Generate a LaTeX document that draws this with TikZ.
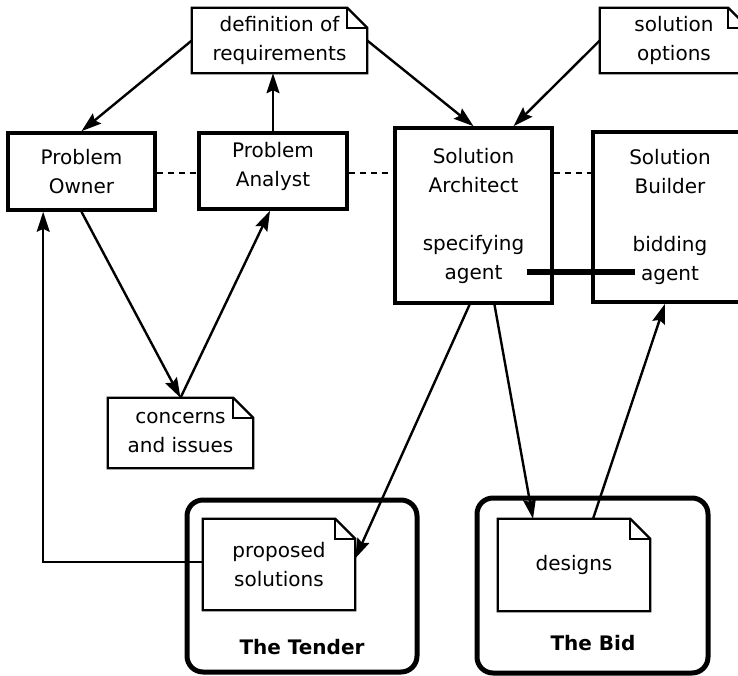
\documentclass[tikz,border=0pt]{standalone}
\usepackage{fontspec}
\setmainfont{DejaVu Sans}
\usetikzlibrary{arrows.meta}

\tikzset{
  txt/.style={font=\fontsize{20}{29}\selectfont, align=center, inner sep=0pt},
  role/.style={txt, draw, line width=3.6pt},
  note/.style={txt},
  notefold/.style={line width=2.3pt, line join=miter},
  frame/.style={draw, line width=5pt, rounded corners=16pt, inner sep=0pt},
  flow/.style={line width=2.4pt, -{Stealth[length=20pt,width=13pt,inset=3pt]}},
  peer/.style={line width=1.8pt, dash pattern=on 6pt off 5pt},
  agentlink/.style={line width=6.5pt},
}

% outline of a note node with a folded top right corner
\newcommand\dogear[1]{%
  \draw[notefold] (#1.north west) -- ([xshift=-20pt]#1.north east)
    -- ([yshift=-20pt]#1.north east) -- (#1.south east)
    -- (#1.south west) -- cycle;
  \draw[notefold] ([xshift=-20pt]#1.north east) |- ([yshift=-20pt]#1.north east);
}

\begin{document}
\begin{tikzpicture}[x=1pt,y=-1pt]
\clip (0,0) rectangle (738,676);
\fill[white] (0,0) rectangle (738,676);

% notes
\node[note, minimum width=175pt, minimum height=65pt] (def) at (279.5,40.5) {definition of\\requirements};
\dogear{def}
\node[note, minimum width=148pt, minimum height=65pt] (opt) at (674,40.5) {solution\\options};
\dogear{opt}
\node[note, minimum width=145pt, minimum height=70pt] (con) at (180.5,433) {concerns\\and issues};
\dogear{con}

% roles
\node[role, minimum width=147pt, minimum height=77pt] (owner) at (81.5,171.5) {Problem\\Owner};
\node[role, minimum width=148pt, minimum height=76pt] (an) at (273,171) {};
\node[txt] (antext) at (273,166.5) {Problem\\Analyst};
\node[role, minimum width=157pt, minimum height=175pt] (arch) at (473.5,215.5)
  {Solution\\Architect\\[29pt]specifying\\agent};
\node[role, minimum width=154pt, minimum height=170pt] (bld) at (670,217)
  {Solution\\Builder\\[29pt]bidding\\agent};

% deliverables
\node[frame, minimum width=230pt, minimum height=172pt] (tender) at (302,586) {};
\node[note, minimum width=152pt, minimum height=91pt] (prop) at (279,564.5) {proposed\\solutions};
\dogear{prop}
\node[txt, font=\fontsize{20}{29}\selectfont\bfseries] (tenderlbl) at (302,647) {The Tender};

\node[frame, minimum width=231pt, minimum height=175pt] (bid) at (592.5,585.5) {};
\node[note, minimum width=152pt, minimum height=92pt] (des) at (574,565) {designs};
\dogear{des}
\node[txt, font=\fontsize{20}{29}\selectfont\bfseries] (bidlbl) at (593,643) {The Bid};

% peer relations
\draw[peer] (owner.east |- 0,173) -- (an.west |- 0,173);
\draw[peer] (an.east |- 0,173) -- (arch.west |- 0,173);
\draw[peer] (arch.east |- 0,173) -- (bld.west |- 0,173);

% agent link
\draw[agentlink] ([shift={(53,56.5)}]arch.center) -- ([shift={(-35,55)}]bld.center);

% information flows
\draw[flow] (def.west) -- (owner.north);
\draw[flow] (def.east) -- (arch.north);
\draw[flow] (an.north) -- (an.north |- def.south);
\draw[flow] (opt.west) -- ([xshift=40pt]arch.north);
\draw[flow] (owner.south) -- (con.north);
\draw[flow] (con.north) -- ([xshift=-3pt]an.south);
\draw[flow] ([xshift=-4pt]arch.south) -- ([yshift=6pt]prop.east);
\draw[flow] ([xshift=21pt]arch.south) -- ([xshift=-41pt]des.north);
\draw[flow] ([xshift=19pt]des.north) -- ([xshift=-5pt]bld.south);
\draw[flow] (prop.west |- 0,562) -| ([xshift=37pt]owner.south west);
\end{tikzpicture}
\end{document}
